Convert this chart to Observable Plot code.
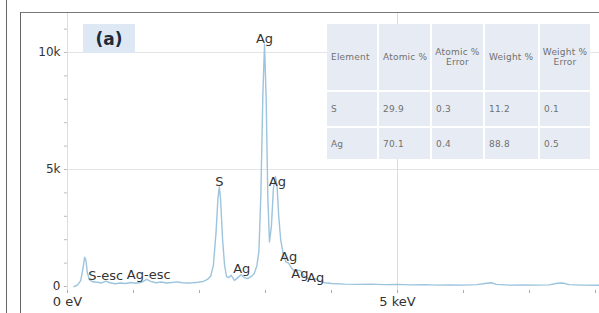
<!DOCTYPE html>
<html>
<head>
<meta charset="utf-8">
<script src="https://cdn.jsdelivr.net/npm/d3@7"></script>
<script src="https://cdn.jsdelivr.net/npm/@observablehq/plot@0.6"></script>
<style>
  html, body { margin: 0; padding: 0; background: #fff; }
  #wrap { position: relative; width: 599px; height: 313px; overflow: hidden; font-family: "DejaVu Sans", sans-serif; }
  #chart { position: absolute; left: 0; top: 0; }
  .frameL { position: absolute; left: 6px; top: 0; width: 0; height: 313px; border-left: 1.5px solid #666; }
  .frameBox { position: absolute; left: 20px; top: 12px; width: 600px; height: 320px; border-left: 1.5px solid #666; border-top: 1.5px solid #777; }
  .tag { position: absolute; left: 83px; top: 24px; width: 52px; height: 29px; background: #dde8f4; color: #1e2a38;
         font: bold 17px "DejaVu Sans", sans-serif; display: flex; align-items: center; justify-content: center; }
  #tbl { position: absolute; left: 327px; top: 24px; display: grid; grid-template-columns: 50px 51px 51px 53px 50px;
         grid-template-rows: 66px 34px 31px; gap: 2px; background: #fff; }
  #tbl div { background: #e7ecf4; color: #707070; font: 9px "DejaVu Sans", sans-serif; letter-spacing: 0.2px;
             display: flex; align-items: center; padding-left: 4px; line-height: 10px; }
  #tbl div.c { justify-content: center; text-align: center; padding-left: 0; }
</style>
</head>
<body>
<div id="wrap">
  <div id="chart"></div>
  <div class="frameL"></div>
  <div class="frameBox"></div>
  <div class="tag">(a)</div>
  <div id="tbl"></div>
</div>
<script>
// Spectrum (energy in keV, counts)
const energy = [0.10,0.15,0.20,0.23,0.26,0.28,0.30,0.33,0.38,0.45,0.52,0.58,0.64,0.72,0.80,0.88,0.96,1.04,1.12,1.20,1.26,1.34,1.42,1.50,1.58,1.66,1.74,1.82,1.90,1.98,2.06,2.12,2.17,2.21,2.25,2.28,2.30,2.32,2.35,2.38,2.41,2.44,2.48,2.53,2.58,2.63,2.68,2.73,2.78,2.83,2.87,2.90,2.93,2.96,2.985,3.01,3.035,3.06,3.09,3.12,3.15,3.175,3.20,3.23,3.27,3.31,3.35,3.39,3.44,3.49,3.53,3.58,3.64,3.70,3.76,3.82,3.90,4.0,4.2,4.4,4.6,4.8,5.0,5.2,5.4,5.6,5.8,6.0,6.2,6.35,6.42,6.5,6.7,6.9,7.1,7.3,7.42,7.5,7.6,7.8,8.06];
const counts = [0,60,250,700,1250,1100,600,300,200,180,150,230,160,120,150,130,170,140,180,300,220,160,190,150,170,200,160,150,160,180,220,300,450,900,2300,3800,4250,3700,2000,900,420,380,480,260,380,500,380,340,420,560,900,1500,4000,8200,10350,8000,3800,1900,2600,4200,4700,4300,3000,2000,1350,1050,1000,800,650,700,680,450,350,300,330,220,160,130,100,90,100,80,90,70,80,60,70,60,80,140,160,90,60,70,60,70,140,150,80,60,50];

// Peak labels
const peakText = ["S-esc","Ag-esc","S","Ag","Ag","Ag","Ag","Ag","Ag"];
const peakE    = [0.58, 1.23, 2.30, 2.985, 3.18, 2.64, 3.35, 3.52, 3.76];
const peakC    = [470, 513, 4490, 10600, 4490, 770, 1280, 555, 385];

// Axis ticks
const yTicks = [0,1000,2000,3000,4000,5000,6000,7000,8000,9000,10000,11000];
const yTickLabels = {0: "0", 5000: "5k", 10000: "10k"};
const xTicks = [0,1,2,3,4,5,6,7,8];
const xLabelVals = [0, 5];
const xLabelText = ["0 eV", "5 keV"];
const gridY = [5000, 10000];
const gridX = [5];

// Quantification table
const tableHeader = ["Element", "Atomic %", "Atomic %\nError", "Weight %", "Weight %\nError"];
const tableElements = ["S", "Ag"];
const atomicPct = ["29.9", "70.1"];
const atomicErr = ["0.3", "0.4"];
const weightPct = ["11.2", "88.8"];
const weightErr = ["0.1", "0.5"];

const spectrum = energy.map((e, i) => ({e, c: counts[i]}));
const peaks = peakText.map((t, i) => ({t, e: peakE[i], c: peakC[i]}));

const chart = Plot.plot({
  width: 599,
  height: 313,
  marginLeft: 67,
  marginRight: 0,
  marginTop: 13,
  marginBottom: 23,
  style: {fontFamily: "DejaVu Sans, sans-serif", background: "transparent", overflow: "visible"},
  x: {domain: [0, 8.06]},
  y: {domain: [-171, 11667]},
  marks: [
    Plot.ruleY(gridY, {stroke: "#e4e4e4", strokeWidth: 1}),
    Plot.ruleX(gridX, {stroke: "#dcdcdc", strokeWidth: 1}),
    Plot.ruleX([0], {stroke: "#dedede", strokeWidth: 1}),
    Plot.axisY({ticks: yTicks, tickSize: 3, tickPadding: 4, stroke: "#bbb",
      tickFormat: d => yTickLabels[d] ?? "", fontSize: 12, fill: "#333", label: null}),
    Plot.axisX({ticks: xTicks, tickSize: 3, tickFormat: () => "", stroke: "#aaa", label: null}),
    Plot.text(xLabelVals, {x: d => d, text: (d, i) => xLabelText[i], frameAnchor: "bottom", dy: 15,
      textAnchor: (d) => d === 0 ? "start" : "middle", fontSize: 13, fill: "#333"}),
    Plot.line(spectrum, {x: "e", y: "c", stroke: "#9cc4dd", strokeWidth: 1.4, curve: "linear"}),
    Plot.text(peaks, {x: "e", y: "c", text: "t", fontSize: 13, fill: "#333", textAnchor: "middle", lineAnchor: "middle"})
  ]
});
document.getElementById("chart").appendChild(chart);

// Build table from arrays
const tbl = document.getElementById("tbl");
tableHeader.forEach(h => {
  const d = document.createElement("div");
  if (h.includes("\n")) { d.className = "c"; d.innerHTML = h.split("\n").join("<br>"); }
  else d.textContent = h;
  tbl.appendChild(d);
});
tableElements.forEach((el, i) => {
  [el, atomicPct[i], atomicErr[i], weightPct[i], weightErr[i]].forEach(v => {
    const d = document.createElement("div");
    d.textContent = v;
    tbl.appendChild(d);
  });
});
</script>
</body>
</html>
